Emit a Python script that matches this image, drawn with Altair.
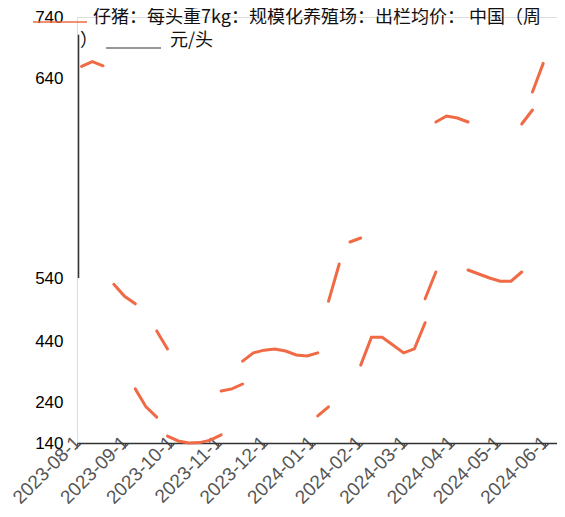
import altair as alt
import pandas as pd

# weekly points (Fridays), split into the drawn segments
point_date = [
    "2023-08-04", "2023-08-11", "2023-08-18",
    "2023-08-25", "2023-09-01", "2023-09-08",
    "2023-09-08", "2023-09-15", "2023-09-22",
    "2023-09-22", "2023-09-29",
    "2023-09-29", "2023-10-06", "2023-10-13", "2023-10-20", "2023-10-27", "2023-11-03",
    "2023-11-03", "2023-11-10", "2023-11-17",
    "2023-11-17", "2023-11-24", "2023-12-01", "2023-12-08", "2023-12-15", "2023-12-22", "2023-12-29", "2024-01-05",
    "2024-01-05", "2024-01-12",
    "2024-01-12", "2024-01-19",
    "2024-01-26", "2024-02-02",
    "2024-02-02", "2024-02-09", "2024-02-16", "2024-02-23", "2024-03-01", "2024-03-08", "2024-03-15",
    "2024-03-15", "2024-03-22",
    "2024-03-22", "2024-03-29", "2024-04-05", "2024-04-12",
    "2024-04-12", "2024-04-19", "2024-04-26", "2024-05-03", "2024-05-10", "2024-05-17",
    "2024-05-17", "2024-05-24",
    "2024-05-24", "2024-05-31",
]
point_value = [
    659, 667, 660,
    530, 511, 499,
    283, 228, 203,
    456, 414,
    157, 145, 140, 141, 147, 160,
    276, 283, 299,
    374, 401, 410, 414, 407, 394, 391, 401,
    206, 228,
    503, 547,
    558, 560,
    361, 446, 446, 427, 401, 414, 469,
    507, 543,
    618, 621, 620, 618,
    544, 542, 540, 535, 535, 543,
    617, 624,
    633, 664,
]
point_segment = (
    [1] * 3 + [2] * 3 + [3] * 3 + [4] * 2 + [5] * 6 + [6] * 3 + [7] * 8 + [8] * 2
    + [9] * 2 + [10] * 2 + [11] * 7 + [12] * 2 + [13] * 4 + [14] * 6 + [15] * 2 + [16] * 2
)

y_ticks = [140, 240, 440, 540, 640, 740]
y_pixels = [426, 385, 324, 261, 61, 0]
month_ticks = [(2023, m) for m in range(8, 13)] + [(2024, m) for m in range(1, 7)]

title_line1 = "仔猪：每头重7kg：规模化养殖场：出栏均价：  中国（周"
title_paren = "）"
title_unit = "元/头"

ORANGE = "#EF6A45"

df = pd.DataFrame({"date": point_date, "value": point_value, "seg": point_segment})

x_scale = alt.Scale(domain=[alt.DateTime(year=2023, month=8, date=1),
                            alt.DateTime(year=2024, month=6, date=9)])
y_scale = alt.Scale(domain=y_ticks, range=y_pixels, zero=False, nice=False)

line = alt.Chart(df).mark_line(color=ORANGE, strokeWidth=3, strokeCap="round").encode(
    x=alt.X("date:T", scale=x_scale, title=None,
            axis=alt.Axis(values=[alt.DateTime(year=y, month=m, date=1) for y, m in month_ticks],
                          format="%Y-%m-%-d", labelAngle=-45, labelAlign="right",
                          labelBaseline="middle", labelPadding=-9, labelFontSize=19,
                          labelColor="#555555", labelFont="Liberation Sans",
                          tickSize=5, tickColor="#444444", domainColor="#333333",
                          domainWidth=1.5, grid=False, labelOverlap=False)),
    y=alt.Y("value:Q", scale=y_scale, title=None,
            axis=alt.Axis(values=y_ticks, domain=False, ticks=False, grid=False,
                          labelFontSize=17, labelColor="#000000", labelFont="Liberation Sans",
                          labelPadding=14)),
    detail="seg:N",
)

axis_df = pd.DataFrame({"date": ["2023-08-02"], "y1": [540], "y2": [711]})
yline = alt.Chart(axis_df).mark_rule(color="#333333", strokeWidth=1.5).encode(
    x=alt.X("date:T", scale=x_scale),
    y=alt.Y("y1:Q", scale=y_scale),
    y2="y2:Q",
)

leg_line = alt.Chart(axis_df).mark_rule(color=ORANGE, strokeWidth=1.5).encode(
    x=alt.value(-44), x2=alt.value(10), y=alt.value(5))
leg_gray = alt.Chart(axis_df).mark_rule(color="#333333", strokeWidth=1.2).encode(
    x=alt.value(29), x2=alt.value(84), y=alt.value(31))
txt1 = alt.Chart(axis_df).mark_text(text=title_line1, align="left", baseline="middle",
                                    fontSize=18, font="Noto Sans CJK SC", color="#111111").encode(
    x=alt.value(16), y=alt.value(1))
txt2 = alt.Chart(axis_df).mark_text(text=title_paren, align="left", baseline="middle",
                                    fontSize=18, font="Noto Sans CJK SC", color="#111111").encode(
    x=alt.value(3), y=alt.value(24))
txt3 = alt.Chart(axis_df).mark_text(text=title_unit, align="left", baseline="middle",
                                    fontSize=18, font="Noto Sans CJK SC", color="#111111").encode(
    x=alt.value(93), y=alt.value(24))

chart = alt.layer(line, yline, leg_line, leg_gray, txt1, txt2, txt3).properties(
    width=480, height=426,
    padding={"left": 69, "top": 9, "right": 0, "bottom": 70},
    autosize=alt.AutoSizeParams(type="none"),
).configure_view(strokeWidth=0).configure(background="white")

chart.save("out.html", embed_options={"renderer": "svg", "actions": False})
